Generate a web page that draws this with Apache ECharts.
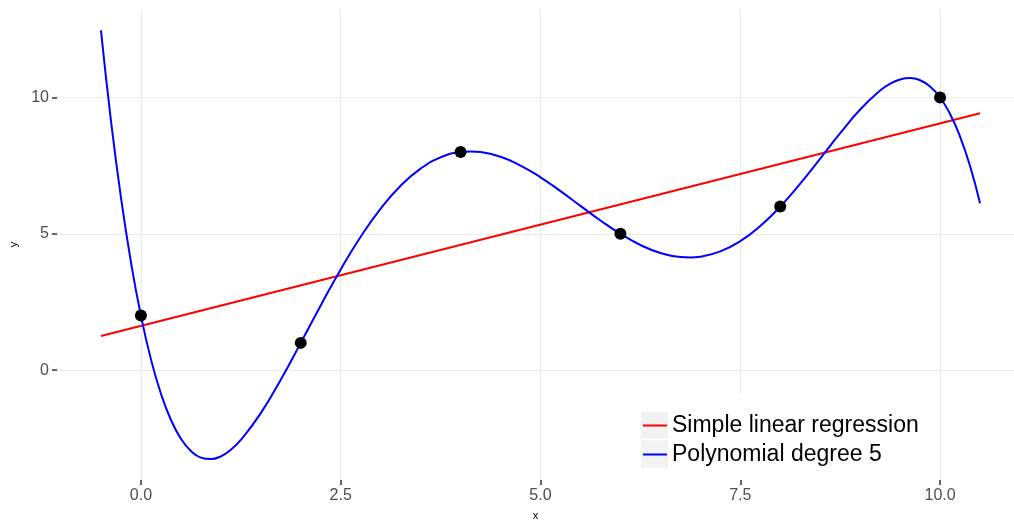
<!DOCTYPE html>
<html>
<head>
<meta charset="utf-8">
<script src="https://cdn.jsdelivr.net/npm/echarts@6/dist/echarts.min.js"></script>
<style>
html,body{margin:0;padding:0;background:#fff;}
#chart{width:1014px;height:526px;}
</style>
</head>
<body>
<div id="chart"></div>
<script>
// Observed data points
const pointX = [0, 2, 4, 6, 8, 10];
const pointY = [2, 1, 8, 5, 6, 10];

// Simple linear regression line (end points)
const linX = [-0.5, 10.5];
const linY = [1.25, 9.42];

// Polynomial degree 5 curve
const polyX = [-0.5, -0.375, -0.25, -0.125, 0, 0.125, 0.25, 0.375, 0.5, 0.625, 0.75, 0.875, 1, 1.125, 1.25, 1.5, 1.75, 2,
  2.25, 2.5, 2.75, 3, 3.25, 3.5, 3.75, 4, 4.125, 4.25, 4.5, 4.75, 5, 5.25, 5.5, 5.75, 6,
  6.25, 6.5, 6.75, 6.875, 7, 7.25, 7.5, 7.75, 8, 8.25, 8.5, 8.75, 9, 9.25, 9.375, 9.5, 9.625, 9.75, 9.875, 10,
  10.125, 10.25, 10.375, 10.5];
const polyY = [12.46, 9.156, 6.338, 3.966, 2, 0.404, -0.859, -1.820, -2.513, -2.966, -3.208, -3.264, -3.160, -2.919, -2.562, -1.578, -0.350, 1,
  2.374, 3.692, 4.891, 5.926, 6.765, 7.393, 7.802, 8, 8.024, 8.000, 7.826, 7.506, 7.074, 6.568, 6.027, 5.491, 5,
  4.591, 4.296, 4.146, 4.131, 4.160, 4.354, 4.732, 5.286, 6, 6.840, 7.759, 8.692, 9.559, 10.256, 10.504, 10.663, 10.713, 10.633, 10.404, 10,
  9.397, 8.569, 7.486, 6.120];

// Tick values
const xTicks = [0, 2.5, 5, 7.5, 10];
const yTicks = [0, 5, 10];

const seriesNames = ['Simple linear regression', 'Polynomial degree 5'];
const seriesColors = ['#ff0000', '#0000ff'];

const FONT = '"Liberation Sans", Arial, Helvetica, sans-serif';

const zip = (a, b) => a.map((v, i) => [v, b[i]]);

const chart = echarts.init(document.getElementById('chart'), null, {renderer: 'canvas'});

chart.setOption({
  animation: false,
  backgroundColor: '#ffffff',
  grid: {left: 56, right: 0, top: 9.2, bottom: 43.6, containLabel: false},
  xAxis: {
    type: 'value',
    min: -1.05,
    max: 10.925,
    name: 'x',
    nameLocation: 'middle',
    nameGap: 30,
    nameTextStyle: {color: '#000', fontSize: 11, fontFamily: FONT},
    axisLine: {show: false, onZero: false},
    axisTick: {show: true, length: 5, customValues: xTicks, lineStyle: {color: '#333333', width: 1.5}},
    axisLabel: {customValues: xTicks, color: '#4d4d4d', fontSize: 16, fontFamily: FONT, margin: 8,
      formatter: v => Number(v).toFixed(1)},
    splitLine: {show: true, lineStyle: {color: '#ebebeb', width: 1.2}}
  },
  yAxis: {
    type: 'value',
    min: -4.03,
    max: 13.24,
    name: 'y',
    nameLocation: 'middle',
    nameGap: 38,
    nameTextStyle: {color: '#000', fontSize: 11, fontFamily: FONT},
    axisLine: {show: false, onZero: false},
    axisTick: {show: true, length: 5, customValues: yTicks, lineStyle: {color: '#333333', width: 1.5}},
    axisLabel: {customValues: yTicks, color: '#4d4d4d', fontSize: 16, fontFamily: FONT, margin: 8,
      formatter: v => String(v)},
    splitLine: {show: true, lineStyle: {color: '#ebebeb', width: 1.2}}
  },
  legend: {
    orient: 'vertical',
    left: 643,
    top: 411,
    padding: 0,
    itemGap: 0,
    itemWidth: 24,
    itemHeight: 2,
    icon: 'path://M0,0H24V2H0Z',
    textStyle: {color: '#000', fontSize: 23, lineHeight: 29, fontFamily: FONT},
    data: seriesNames.map((n, i) => ({name: n, itemStyle: {color: seriesColors[i]}})),
    selectedMode: false,
    z: 10
  },
  graphic: [
    {type: 'rect', z: 5, shape: {x: 630, y: 394, width: 302, height: 86}, style: {fill: '#ffffff'}, silent: true},
    {type: 'rect', z: 6, shape: {x: 641, y: 411.5, width: 27, height: 27}, style: {fill: '#f2f2f2'}, silent: true},
    {type: 'rect', z: 6, shape: {x: 641, y: 440.5, width: 27, height: 27}, style: {fill: '#f2f2f2'}, silent: true}
  ],
  series: [
    {
      name: seriesNames[0], type: 'line', data: zip(linX, linY),
      showSymbol: false, symbol: 'none', color: seriesColors[0],
      lineStyle: {color: seriesColors[0], width: 2}, z: 2
    },
    {
      name: seriesNames[1], type: 'line', data: zip(polyX, polyY),
      showSymbol: false, symbol: 'none', smooth: 0.5, color: seriesColors[1],
      lineStyle: {color: seriesColors[1], width: 2, join: 'round'}, z: 3
    },
    {
      name: 'points', type: 'scatter', data: zip(pointX, pointY),
      symbol: 'circle', symbolSize: 12, itemStyle: {color: '#000000', opacity: 1}, z: 4
    }
  ]
});
</script>
</body>
</html>
